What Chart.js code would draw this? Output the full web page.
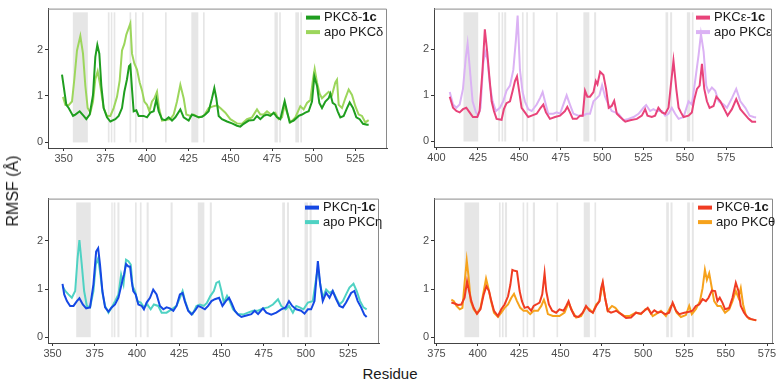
<!DOCTYPE html>
<html>
<head>
<meta charset="utf-8">
<script src="https://cdn.jsdelivr.net/npm/chart.js@4.4.1/dist/chart.umd.min.js"></script>
<style>
	body { margin: 0; background: #fff; }
	#wrap { position: relative; width: 778px; height: 381px; overflow: hidden; font-family: "Liberation Sans", Arial, sans-serif; color: #1a1a1a; }
	#wrap canvas { position: absolute; }
	.ytitle { position: absolute; left: 13px; top: 191px; transform: translate(-50%, -50%) rotate(-90deg); font-size: 16px; white-space: nowrap; }
	.xtitle { position: absolute; left: 390px; top: 365px; transform: translateX(-50%); font-size: 15px; white-space: nowrap; }
</style>
</head>
<body>
<div id="wrap">
	<canvas id="cDelta" width="390" height="175" style="left:0;top:0"></canvas>
	<canvas id="cEpsilon" width="388" height="175" style="left:390px;top:0"></canvas>
	<canvas id="cEta" width="390" height="175" style="left:0;top:190px"></canvas>
	<canvas id="cTheta" width="388" height="175" style="left:390px;top:190px"></canvas>
	<div class="ytitle">RMSF (Å)</div>
	<div class="xtitle">Residue</div>
</div>
<script>
// residue / RMSF pairs
var deltaHolo = [[349,1.46],[351.6,0.81],[353,0.74],[355.6,0.57],[357,0.6],[359.6,0.67],[362,0.57],[363.6,0.5],[365.6,0.6],[367.6,1.02],[369,1.84],[370.2,2.1],[371.4,1.91],[372.6,1.22],[374,0.74],[376,0.54],[378,0.45],[381,0.5],[383,0.57],[385,0.74],[386.4,1.09],[388,1.36],[389.2,1.64],[390,1.67],[391,1.15],[392,0.67],[393.6,0.69],[395,0.57],[398,0.57],[400,0.54],[402,0.64],[404,0.67],[405.6,0.93],[407,0.67],[409,0.5],[411,0.48],[413,0.54],[415,0.47],[417,0.54],[420,0.71],[422,0.54],[425,0.47],[427,0.6],[429,0.57],[431,0.54],[433,0.55],[435,0.6],[437,0.67],[439,0.95],[440.4,1.17],[441.6,0.95],[443,0.57],[445,0.5],[448,0.45],[451,0.41],[454,0.36],[456,0.34],[458,0.4],[461,0.47],[464,0.48],[466,0.57],[468,0.5],[470,0.57],[472,0.6],[474,0.57],[476,0.64],[478,0.54],[480,0.5],[481.6,0.74],[482.6,0.89],[484,0.67],[485.6,0.43],[488,0.47],[491,0.57],[493,0.6],[495,0.64],[497,0.67],[499,0.88],[500.4,1.42],[502,1.22],[503.4,0.85],[505,0.74],[507,0.88],[509,0.95],[510,1.05],[511.4,0.85],[513,0.81],[514.4,0.67],[516,0.54],[518,0.57],[520,0.74],[521.6,0.86],[523.6,0.74],[525.6,0.54],[527.6,0.5],[529.6,0.4],[532,0.38],[533,0.38]];
var deltaApo = [[349.6,0.98],[351,0.81],[353,0.8],[355,0.88],[356.4,1.36],[358,1.98],[360,2.29],[361.6,1.91],[363,1.22],[364.4,0.74],[366,0.64],[367.6,0.88],[369,1.36],[370.4,1.53],[372,1.22],[374,0.74],[376,0.57],[378,0.57],[380,0.74],[382,0.98],[383.6,1.33],[385,1.98],[386.4,2.12],[387.6,2.32],[389,2.46],[390,2.56],[391,1.91],[392.4,1.7],[394,1.57],[395.6,1.29],[397,1.12],[398.4,0.88],[400,0.81],[401.4,0.67],[403,0.88],[404.4,0.95],[406,1.09],[407.2,0.74],[409,0.47],[411,0.48],[414,0.5],[416,0.6],[418,0.88],[420,1.24],[422,0.95],[423.6,0.6],[426,0.57],[428,0.6],[431,0.54],[434,0.57],[437,0.74],[440,0.78],[442,0.8],[444,0.74],[447,0.64],[450,0.5],[454,0.41],[457,0.4],[460,0.5],[463,0.54],[466,0.71],[468,0.6],[470,0.6],[472,0.67],[474.4,0.6],[477,0.64],[479,0.5],[481,0.54],[482.6,0.81],[484,0.64],[486,0.43],[489,0.54],[492,0.78],[494,0.71],[496,0.85],[498,0.91],[499.6,1.36],[500.6,1.58],[502,1.29],[503.6,1.05],[505,0.95],[507,1.02],[509,1.09],[511,1.02],[513,1.29],[514,1.35],[515,0.81],[517,0.74],[519,0.95],[521,1.14],[523,1.02],[525,0.78],[527,0.6],[529,0.57],[531,0.43],[533,0.48]];

var epsilonHolo = [[408,0.97],[410,0.73],[412,0.66],[414,0.63],[416,0.7],[418,0.73],[420,0.63],[422,0.53],[424.6,0.53],[426,0.66],[427.8,1.55],[429.2,2.43],[430.6,1.95],[431.9,1.41],[433.3,0.87],[434.7,0.66],[436.3,0.49],[439.3,0.47],[440.7,0.7],[442.3,0.83],[444.4,0.87],[446,1.1],[447.4,1.31],[448.6,1.41],[450,1.07],[451.4,0.73],[453.4,0.63],[455.4,0.53],[457.5,0.56],[460.5,0.6],[462.9,0.73],[464.5,0.8],[466.1,0.63],[468.5,0.49],[471.6,0.53],[474.6,0.56],[477.6,0.66],[479,0.75],[480.6,0.63],[482.3,0.49],[484.7,0.49],[486.7,0.56],[488.3,0.56],[489.7,1.1],[491.1,0.97],[492.7,0.97],[494.8,1.07],[496.2,1.31],[497.2,1.24],[498.8,1.51],[500.8,1.44],[502.4,1.14],[504,0.73],[505.8,0.77],[507.3,0.88],[508.9,0.6],[510.9,0.53],[514,0.43],[516.9,0.46],[521,0.49],[524,0.56],[526,0.7],[527.4,0.56],[530,0.53],[532,0.56],[534,0.73],[536.1,0.63],[538.1,0.6],[540.1,0.73],[541.5,1.21],[543.1,1.75],[544.8,1.14],[546.2,0.73],[547.6,0.63],[549.2,0.53],[552.2,0.56],[554.2,0.63],[555.6,0.9],[557.3,1.14],[558.9,1.21],[560.3,1.68],[561.7,1.14],[563.3,0.87],[564.9,0.73],[567.3,0.77],[569,0.97],[571.4,0.87],[573.4,0.73],[575.8,0.56],[578.4,0.7],[581,0.92],[583.5,0.7],[585.9,0.6],[588.5,0.49],[590.5,0.43],[593,0.43]];
var epsilonApo = [[408,1.07],[410,0.8],[412,0.73],[414,0.8],[416,1.14],[417.7,1.82],[418.8,2.12],[420.2,1.55],[421.8,0.87],[423.8,0.63],[425.2,0.56],[426.6,0.73],[428.2,1.68],[429.4,1.95],[430.8,1.78],[432.3,1.21],[433.9,0.87],[435.9,0.66],[438.3,0.73],[440.3,0.87],[442.3,1.1],[444.4,1.21],[446.4,1.55],[448,2.22],[449,2.73],[450.4,1.55],[452,1.07],[453.4,0.87],[455.4,0.7],[457.5,0.66],[460.5,0.8],[462.5,0.94],[464.1,1.07],[465.5,0.87],[467.5,0.6],[470.6,0.6],[472.6,0.63],[474.6,0.6],[476.6,0.8],[478.6,1.0],[480.6,0.8],[482.7,0.6],[485.7,0.56],[488.3,0.56],[490.7,0.6],[492.7,0.6],[494.8,0.87],[496.8,0.94],[498.4,1.0],[500,1.22],[501.8,0.97],[503.8,0.8],[505.8,0.66],[507.9,0.63],[509.9,0.6],[512.9,0.46],[515.9,0.49],[519,0.53],[522,0.6],[525,0.73],[526.6,0.79],[529,0.66],[531,0.7],[533,0.66],[536.1,0.66],[538.1,0.56],[540.1,0.6],[542.1,0.73],[544.1,0.6],[546.2,0.49],[549.2,0.53],[552.2,0.87],[554.2,0.8],[556.3,1.34],[558.3,1.88],[559.7,2.33],[561.3,1.95],[562.9,1.21],[564.3,1.07],[566.3,1.17],[568.3,1.1],[570.4,0.87],[573.4,0.8],[575.4,0.73],[578.4,0.94],[581,1.14],[583.5,0.87],[586.5,0.73],[589.1,0.56],[591.5,0.53],[593,0.52]];

var etaHolo = [[355.9,1.11],[356.9,0.89],[358.5,0.75],[360.4,0.65],[362.4,0.65],[364.4,0.75],[365.9,0.81],[367.9,0.68],[369.9,0.6],[372.2,0.62],[374.2,1.1],[375.8,1.78],[377,1.85],[378.1,1.51],[379.5,0.96],[381.1,0.62],[383.1,0.53],[385,0.62],[387,0.68],[389,0.82],[390.4,1.03],[391.5,1.2],[392.3,1.3],[393.5,1.52],[394.9,1.47],[395.9,1.47],[396.9,1.16],[397.8,0.96],[399.2,0.89],[400.8,0.68],[402.8,0.65],[404.1,0.58],[405.7,0.72],[407.7,0.82],[409.6,0.99],[411.6,0.89],[413.6,0.65],[415.6,0.58],[417.5,0.62],[419.5,0.6],[421.5,0.55],[423.4,0.65],[425.4,0.89],[427,0.92],[428.3,0.75],[430.3,0.55],[432.3,0.47],[434.3,0.55],[436.2,0.65],[438.2,0.62],[440.2,0.58],[442.1,0.65],[444.1,0.75],[446.1,0.79],[448.6,0.82],[450.6,0.65],[452.6,0.75],[454.5,0.82],[455.9,0.72],[457.9,0.55],[459.8,0.47],[461.8,0.42],[464.8,0.45],[467.7,0.48],[469.7,0.55],[471.7,0.48],[474.6,0.6],[476.6,0.51],[479.5,0.47],[482.5,0.51],[485.4,0.58],[488,0.62],[490,0.75],[491.9,0.65],[494.3,0.58],[497.2,0.55],[499.2,0.49],[501.2,0.58],[503.1,0.58],[505.1,0.75],[507.1,1.58],[508.5,1.1],[510,0.75],[512,0.92],[514,0.82],[515.9,0.96],[517.9,0.79],[519.9,0.65],[521.9,0.62],[523.8,0.72],[526.8,0.92],[528.7,0.96],[530.7,0.75],[532.7,0.62],[534.6,0.47],[536,0.42]];
var etaApo = [[355.9,1.06],[357.5,0.96],[359.4,0.89],[361.4,0.82],[363.4,0.96],[364.8,1.64],[365.9,2.02],[367.3,1.51],[368.7,0.96],[370.3,0.65],[372.2,0.62],[374.2,0.96],[375.6,1.51],[377,1.64],[378.1,1.37],[379.7,0.89],[381.1,0.65],[383.1,0.51],[385,0.62],[387,0.75],[389,0.89],[390.6,1.3],[392,1.1],[393.5,1.61],[394.9,1.58],[396.3,1.51],[397.4,1.06],[398.8,0.96],[400.3,0.75],[402.2,0.72],[404.1,0.62],[406.1,0.68],[408.1,0.58],[410,0.68],[412.6,0.65],[414.6,0.51],[417.5,0.51],[420.5,0.58],[423.4,0.65],[425.4,0.82],[427,0.96],[428.5,0.75],[430.5,0.55],[432.9,0.48],[435.2,0.65],[437.2,0.68],[439.6,0.65],[441.5,0.72],[443.5,0.86],[445.5,0.96],[447,1.13],[448.6,1.16],[450,0.96],[451.4,0.72],[453.3,0.86],[454.9,0.75],[456.9,0.58],[459.8,0.48],[462.8,0.47],[465.7,0.51],[468.7,0.55],[471.7,0.55],[474.6,0.6],[477.6,0.62],[480.5,0.68],[483.5,0.79],[485.4,0.65],[488,0.58],[490,0.65],[492.3,0.51],[494.3,0.65],[496.3,0.62],[498.6,0.58],[501.2,0.72],[504.1,0.75],[506.1,1.23],[507.1,1.44],[508.5,1.1],[510,0.82],[512,0.99],[514,0.92],[515.9,0.96],[517.9,0.82],[519.9,0.68],[521.9,0.75],[523.8,0.89],[525.8,1.03],[528.2,1.11],[530.1,0.96],[532.1,0.75],[534.1,0.62],[536,0.58]];

var thetaHolo = [[384,0.72],[386,0.7],[388,0.67],[390,0.68],[392,0.82],[393.5,1.16],[394.7,0.96],[396.1,0.75],[397.5,0.61],[399.5,0.49],[401.6,0.58],[403.6,0.89],[405.2,1.06],[406.8,0.96],[408.2,0.75],[409.8,0.55],[412.2,0.44],[414.2,0.58],[416.2,0.68],[418.3,0.85],[419.7,1.09],[420.9,1.4],[422.3,1.38],[423.7,1.37],[425.3,0.96],[426.7,0.75],[428.3,0.61],[430.3,0.63],[432.3,0.55],[433.8,0.65],[435.4,0.68],[437.4,0.72],[439,0.89],[440.4,1.33],[441.4,0.96],[443,0.68],[445,0.55],[447.4,0.51],[449.4,0.58],[451.9,0.55],[453.5,0.65],[454.9,0.75],[456.5,0.58],[458.5,0.44],[460.9,0.42],[463.5,0.51],[465.5,0.65],[467.6,0.55],[469.6,0.51],[471.6,0.65],[473.6,0.75],[474.6,1.02],[475.6,1.15],[477,0.82],[478.6,0.55],[480.6,0.51],[483.7,0.55],[486.7,0.48],[489.7,0.4],[492.7,0.41],[495.7,0.51],[498.7,0.49],[500.8,0.55],[502.8,0.61],[504.8,0.49],[506.8,0.56],[508.8,0.51],[510.8,0.53],[513.4,0.48],[515.8,0.51],[517.9,0.72],[519.9,0.55],[521.9,0.48],[524.9,0.51],[527.9,0.53],[529.9,0.55],[531.9,0.65],[534,0.68],[536,0.79],[538,0.75],[539.6,0.82],[541.6,0.97],[543.6,0.96],[545,0.75],[546.4,0.82],[548,0.72],[549.6,0.58],[552.1,0.61],[554.1,0.82],[556.1,1.13],[557.7,0.96],[559.1,0.65],[561.1,0.51],[563.1,0.42],[565.1,0.38],[568.5,0.35]];
var thetaApo = [[384,0.78],[385.5,0.75],[387.1,0.65],[389.1,0.58],[390.7,0.61],[392.1,1.16],[393.3,1.6],[394.5,1.23],[395.7,0.75],[397.5,0.58],[399.5,0.49],[401.6,0.61],[403.6,0.96],[405,1.22],[406.4,1.02],[408,0.75],[409.8,0.51],[412.2,0.42],[414.2,0.51],[416.2,0.61],[418.3,0.68],[420.3,0.82],[421.9,0.9],[423.7,0.75],[425.7,0.61],[427.7,0.55],[429.7,0.55],[431.7,0.48],[433.8,0.55],[436.4,0.55],[438.4,0.65],[440,0.78],[441,0.68],[442.4,0.48],[445.4,0.44],[449.4,0.44],[452.5,0.51],[454.9,0.72],[457.1,0.55],[459.5,0.41],[462.5,0.44],[465.5,0.63],[467.6,0.58],[469.6,0.51],[471.6,0.68],[473.6,0.75],[475.6,1.11],[477.2,0.78],[478.6,0.55],[481.2,0.65],[483.2,0.61],[485.6,0.51],[488.7,0.44],[491.7,0.44],[495.7,0.51],[498.7,0.48],[501.4,0.58],[503.4,0.58],[505.8,0.44],[507.8,0.48],[510.8,0.55],[513.8,0.44],[516.9,0.65],[518.3,0.68],[520.3,0.51],[522.9,0.42],[525.9,0.46],[527.9,0.65],[529.5,0.48],[531.9,0.58],[534.4,0.75],[536,1.02],[537.4,1.4],[538.6,1.19],[540,1.33],[541.4,1.06],[543,0.75],[545,0.65],[547,0.65],[549.6,0.51],[552.1,0.58],[554.1,0.75],[556.1,0.96],[557.7,0.82],[559.1,1.02],[560.5,0.68],[562.1,0.46],[564.1,0.38],[568.5,0.35]];

// highlighted residue spans (grey bands)
var deltaBands = [[355.5,364.5],[376.5,377.5],[378.3,379.2],[380,381],[389.5,390.5],[392.8,393.8],[397,398],[410.8,411.8],[426.6,430.8],[433.6,434.6],[476.5,478.5],[479.3,480.3],[489,491.2],[492,493]];
var epsilonBands = [[416.3,425.2],[437.3,438.3],[439.3,440.3],[440.9,442.1],[451.6,452.6],[454.2,455.2],[458.1,459.3],[472.2,473.2],[488.7,492.3],[495.2,496.4],[538.3,539.9],[541.1,542.3],[551.2,553.2],[554.2,555.2]];
var etaBands = [[364,372.6],[384.8,385.6],[386.2,387.2],[388.4,389.6],[398.8,399.8],[401.7,402.7],[405.7,406.9],[419.9,421.1],[436,439.9],[443.1,444.3],[486,487.6],[488.8,490],[499.2,501.2],[502.2,503.4]];
var thetaBands = [[391.9,400.8],[412.8,413.8],[414.6,415.6],[416.4,417.7],[427.1,428.1],[429.5,430.5],[433.3,434.6],[447.6,448.6],[464.1,467.8],[470.6,471.6],[514,515.6],[516.6,517.8],[526.7,528.3],[529.5,530.7]];
var bandTop = 2.8;

var deltaTicks = [350, 375, 400, 425, 450, 475, 500, 525];
var epsilonTicks = [400, 425, 450, 475, 500, 525, 550, 575];
var etaTicks = [350, 375, 400, 425, 450, 475, 500, 525];
var thetaTicks = [375, 400, 425, 450, 475, 500, 525, 550, 575];
var rmsfTicks = [0, 1, 2];

var deltaNames = ['PKCδ-1c', 'apo PKCδ'];
var epsilonNames = ['PKCε-1c', 'apo PKCε'];
var etaNames = ['PKCη-1c', 'apo PKCη'];
var thetaNames = ['PKCθ-1c', 'apo PKCθ'];

var FONT = '"Liberation Sans", Arial, sans-serif';

// grey residue bands behind the lines
Chart.register({
	id: 'bands',
	beforeDatasetsDraw: function (chart, args, opts) {
		if (!opts.list) return;
		var ctx = chart.ctx, xs = chart.scales.x, ys = chart.scales.y, a = chart.chartArea;
		ctx.save();
		ctx.beginPath();
		ctx.rect(a.left, a.top, a.right - a.left, a.bottom - a.top);
		ctx.clip();
		ctx.fillStyle = opts.color;
		opts.list.forEach(function (b) {
			var x0 = xs.getPixelForValue(b[0]), x1 = xs.getPixelForValue(b[1]);
			var y0 = ys.getPixelForValue(0), y1 = ys.getPixelForValue(opts.top);
			ctx.fillRect(x0, y1, x1 - x0, y0 - y1);
		});
		ctx.restore();
	}
});

// top/right panel border + two-row legend with bold "1c"
Chart.register({
	id: 'panelDeco',
	afterDraw: function (chart, args, opts) {
		if (opts.offset === undefined) return;
		var ctx = chart.ctx, a = chart.chartArea;
		ctx.save();
		ctx.strokeStyle = '#8a8a8a';
		ctx.lineWidth = 1;
		ctx.beginPath();
		ctx.moveTo(a.left, a.top + 0.5);
		ctx.lineTo(a.right - 0.5, a.top + 0.5);
		ctx.lineTo(a.right - 0.5, a.bottom);
		ctx.stroke();

		ctx.textBaseline = 'middle';
		chart.data.datasets.forEach(function (ds, i) {
			var x = a.right - opts.offset, y = a.top + opts.rowY + i * opts.rowGap;
			ctx.strokeStyle = ds.borderColor;
			ctx.lineWidth = 4;
			ctx.beginPath();
			ctx.moveTo(x, y);
			ctx.lineTo(x + 14, y);
			ctx.stroke();
			ctx.fillStyle = '#1a1a1a';
			var tx = x + 18, lab = ds.label, bold = '';
			if (/1c$/.test(lab)) { bold = '1c'; lab = lab.slice(0, -2); }
			ctx.font = '13px ' + FONT;
			ctx.fillText(lab, tx, y);
			if (bold) {
				tx += ctx.measureText(lab).width;
				ctx.font = 'bold 13px ' + FONT;
				ctx.fillText(bold, tx, y);
			}
		});
		ctx.restore();
	}
});

function pts( arr ) {
	return arr.map(function (p) { return { x: p[0], y: p[1] }; });
}

function makePanel( id, p ) {
	return new Chart(document.getElementById(id), {
		type: 'line',
		data: {
			datasets: [
				{ label: p.names[0], data: pts(p.holo), borderColor: p.colors[0], borderWidth: 2, pointRadius: 0, tension: 0 },
				{ label: p.names[1], data: pts(p.apo), borderColor: p.colors[1], borderWidth: 2, pointRadius: 0, tension: 0 }
			]
		},
		options: {
			responsive: false,
			animation: false,
			layout: { padding: { top: p.pad[0], right: p.pad[1], bottom: 0, left: 0 } },
			plugins: {
				legend: { display: false },
				tooltip: { enabled: false },
				bands: { list: p.bands, top: bandTop, color: '#e6e6e6' },
				panelDeco: { offset: p.legendOffset, rowY: 9, rowGap: 14.5 }
			},
			scales: {
				x: {
					type: 'linear',
					min: p.xRange[0],
					max: p.xRange[1],
					afterBuildTicks: function (s) { s.ticks = p.ticks.map(function (v) { return { value: v }; }); },
					afterFit: function (s) { s.height = p.xH; },
					ticks: { color: '#4d4d4d', font: { family: FONT, size: 11 }, padding: 1, maxRotation: 0, autoSkip: false },
					grid: { drawOnChartArea: false, tickLength: 3, color: '#333' },
					border: { color: '#444' }
				},
				y: {
					type: 'linear',
					min: -0.12,
					max: 2.88,
					afterBuildTicks: function (s) { s.ticks = rmsfTicks.map(function (v) { return { value: v }; }); },
					afterFit: function (s) { s.width = p.yW; },
					ticks: { color: '#4d4d4d', font: { family: FONT, size: 11 }, padding: 2 },
					grid: { drawOnChartArea: false, tickLength: 3, color: '#333' },
					border: { color: '#444' }
				}
			}
		}
	});
}

makePanel('cDelta', {
	holo: deltaHolo, apo: deltaApo, names: deltaNames, bands: deltaBands, ticks: deltaTicks,
	colors: ['#1f9e1f', '#9cd65c'], xRange: [340.6, 544], yW: 48, xH: 27, pad: [3, 3], legendOffset: 81
});
makePanel('cEpsilon', {
	holo: epsilonHolo, apo: epsilonApo, names: epsilonNames, bands: epsilonBands, ticks: epsilonTicks,
	colors: ['#e8437a', '#dbb2f4'], xRange: [398.5, 602.6], yW: 44, xH: 28, pad: [2, 6], legendOffset: 76
});
makePanel('cEta', {
	holo: etaHolo, apo: etaApo, names: etaNames, bands: etaBands, ticks: etaTicks,
	colors: ['#1548e4', '#4fd2c3'], xRange: [347.3, 543.3], yW: 48, xH: 22, pad: [7, 11], legendOffset: 74
});
makePanel('cTheta', {
	holo: thetaHolo, apo: thetaApo, names: thetaNames, bands: thetaBands, ticks: thetaTicks,
	colors: ['#f03c22', '#f6a21c'], xRange: [373.5, 578.6], yW: 44, xH: 22, pad: [6, 5], legendOffset: 75
});
</script>
</body>
</html>
